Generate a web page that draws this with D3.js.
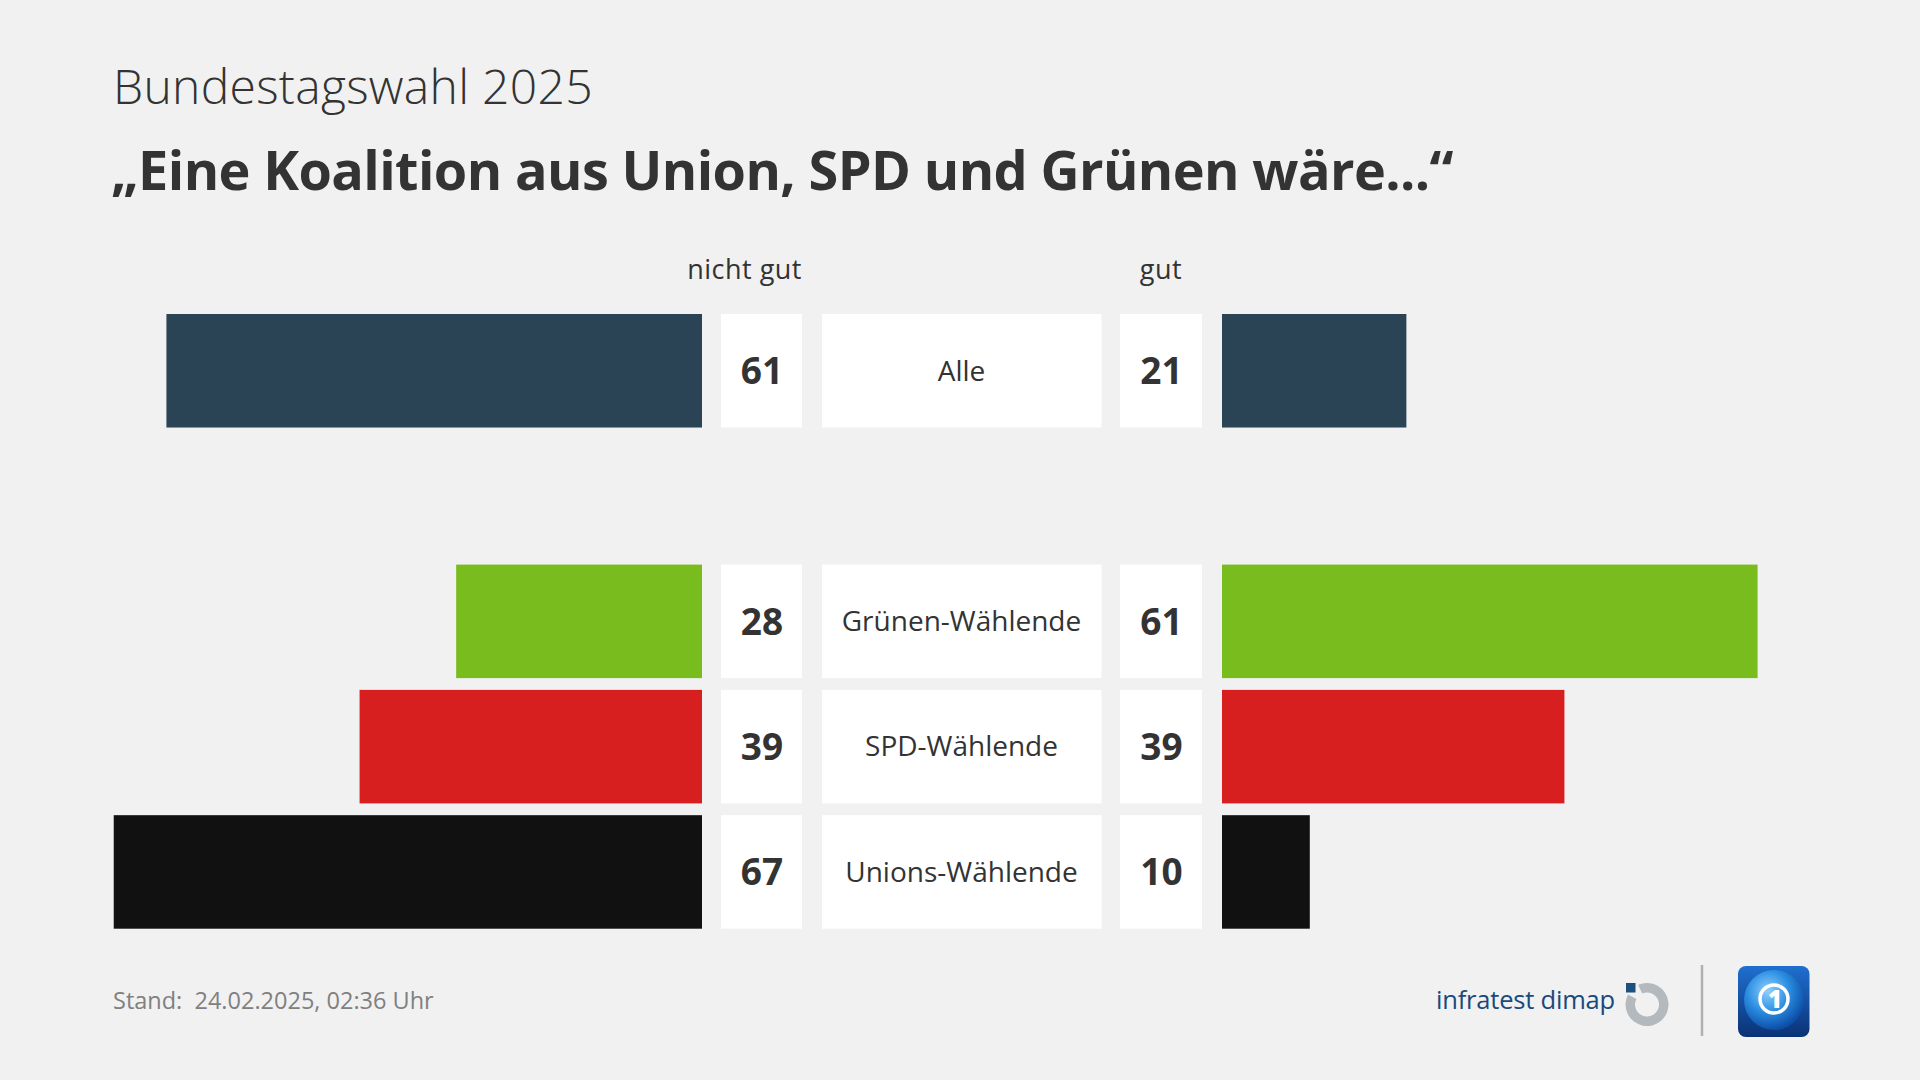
<!DOCTYPE html>
<html><head><meta charset="utf-8">
<script src="https://cdn.jsdelivr.net/npm/d3@7"></script>
<style>
html,body{margin:0;padding:0;background:#f1f1f1;}
svg{display:block;font-family:"Open Sans",sans-serif;}
</style></head>
<body>
<svg id="chart" width="1920" height="1080"></svg>
<script>
const categories = ["Alle", "Grünen-Wählende", "SPD-Wählende", "Unions-Wählende"];
const nichtGut = [61, 28, 39, 67];
const gut = [21, 61, 39, 10];
const barColors = ["#2a4456", "#79bc1e", "#d71f1f", "#111111"];
const headers = ["nicht gut", "gut"];
const subtitle = "Bundestagswahl 2025";
const title = "„Eine Koalition aus Union, SPD und Grünen wäre...“";
const footnote = "Stand:  24.02.2025, 02:36 Uhr";

const svg = d3.select("#chart");
const textCol = "#333333";

svg.append("rect").attr("width",1920).attr("height",1080).attr("fill","#f1f1f1");

svg.append("text").attr("x",113).attr("y",104).attr("font-size",48).attr("font-weight",300)
  .attr("fill",textCol).attr("letter-spacing",0.3).text(subtitle);
svg.append("text").attr("x",111).attr("y",190).attr("font-size",54).attr("font-weight",700)
  .attr("fill",textCol).attr("letter-spacing",-0.6).text(title);

// scales
const rows = [categories[0], "__gap", ...categories.slice(1)];
const y = d3.scaleBand().domain(rows).range([314, 928.7]).paddingInner(0.094).paddingOuter(0);
const xL = d3.scaleLinear().domain([0, 100]).range([702, 702 - 878]);
const xR = d3.scaleLinear().domain([0, 100]).range([1222, 1222 + 878]);

const data = categories.map((c, i) => ({c, n: nichtGut[i], g: gut[i], col: barColors[i]}));

const g = svg.append("g");
const row = g.selectAll("g.row").data(data).join("g").attr("class","row")
  .attr("transform", d => `translate(0,${y(d.c)})`);
const bh = y.bandwidth();

row.append("rect").attr("x", d => xL(d.n)).attr("width", d => xL(0) - xL(d.n))
  .attr("height", bh).attr("fill", d => d.col);
row.append("rect").attr("x", xR(0)).attr("width", d => xR(d.g) - xR(0))
  .attr("height", bh).attr("fill", d => d.col);

// boxes
const boxes = [{x:721, w:81}, {x:822, w:279.5}, {x:1120, w:82}];
boxes.forEach(b => {
  row.append("rect").attr("x", b.x).attr("width", b.w).attr("height", bh).attr("fill", "#ffffff");
});
row.append("text").attr("x", 762).attr("y", bh/2).attr("dy","0.36em").attr("text-anchor","middle")
  .attr("font-size",37).attr("font-weight",700).attr("fill",textCol).text(d => d.n);
row.append("text").attr("x", 961.5).attr("y", bh/2).attr("dy","0.35em").attr("text-anchor","middle")
  .attr("font-size",28).attr("fill",textCol).text(d => d.c);
row.append("text").attr("x", 1161.5).attr("y", bh/2).attr("dy","0.36em").attr("text-anchor","middle")
  .attr("font-size",37).attr("font-weight",700).attr("fill",textCol).text(d => d.g);

// headers
svg.append("text").attr("x",802).attr("y",279).attr("text-anchor","end").attr("font-size",27)
  .attr("letter-spacing",0.5).attr("fill",textCol).text(headers[0]);
svg.append("text").attr("x",1161).attr("y",279).attr("text-anchor","middle").attr("font-size",27)
  .attr("letter-spacing",0.5).attr("fill",textCol).text(headers[1]);

// footer
svg.append("text").attr("x",113).attr("y",1009).attr("font-size",23.5).attr("fill","#808080")
  .style("white-space","pre").text(footnote);

// infratest dimap logo
svg.append("text").attr("x",1436).attr("y",1009).attr("font-size",25.5).attr("fill","#1a4a7c")
  .attr("letter-spacing",-0.2).text("infratest dimap");
svg.append("rect").attr("x",1626).attr("y",983).attr("width",9.5).attr("height",9.5).attr("fill","#1d4f80");
svg.append("path").attr("transform","translate(1647,1004.5)")
  .attr("d", d3.arc()({innerRadius:12, outerRadius:21.5, startAngle:-0.42, endAngle:5.2}))
  .attr("fill","#b4b9bd");

// separator
svg.append("line").attr("x1",1702).attr("x2",1702).attr("y1",965).attr("y2",1036)
  .attr("stroke","#b0b0b0").attr("stroke-width",2.5);

// tagesschau logo
const defs = svg.append("defs");
const lg = defs.append("linearGradient").attr("id","tsbg").attr("x1",0).attr("y1",0).attr("x2",0).attr("y2",1);
lg.append("stop").attr("offset","0%").attr("stop-color","#1f6fd0");
lg.append("stop").attr("offset","100%").attr("stop-color","#0a3275");
const rg = defs.append("radialGradient").attr("id","tsglobe").attr("cx","40%").attr("cy","35%").attr("r","65%");
rg.append("stop").attr("offset","0%").attr("stop-color","#8fd0ff");
rg.append("stop").attr("offset","55%").attr("stop-color","#2a8de0");
rg.append("stop").attr("offset","100%").attr("stop-color","#0d4ea8");
svg.append("rect").attr("x",1738).attr("y",966).attr("width",71.5).attr("height",71).attr("rx",8)
  .attr("fill","url(#tsbg)");
svg.append("circle").attr("cx",1774).attr("cy",1000).attr("r",30).attr("fill","url(#tsglobe)");
svg.append("circle").attr("cx",1774).attr("cy",999).attr("r",14).attr("fill","none")
  .attr("stroke","#ffffff").attr("stroke-width",3.5);
svg.append("text").attr("x",1775).attr("y",1008).attr("text-anchor","middle").attr("font-size",24)
  .attr("font-weight",800).attr("fill","#ffffff").text("1");
</script>
</body></html>
